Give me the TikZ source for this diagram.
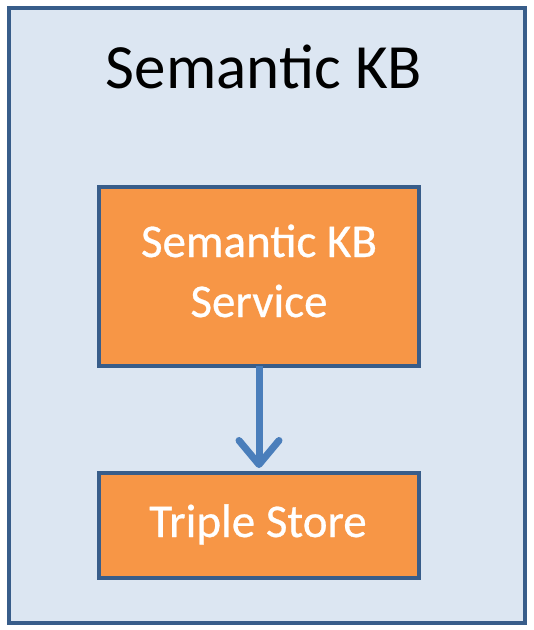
\documentclass[tikz,border=0pt]{standalone}
\usepackage{fontspec}
\setmainfont{Carlito}
\newfontface\boxfont{Carlito}[FakeBold=0.6]
\usetikzlibrary{arrows.meta}
\definecolor{bgblue}{RGB}{220,230,242}
\definecolor{edgeblue}{RGB}{56,93,138}
\definecolor{boxorange}{RGB}{247,150,70}
\definecolor{arrowblue}{RGB}{74,126,187}
\tikzset{
  outerbox/.style={draw=edgeblue, fill=bgblue, line width=4pt},
  orangebox/.style={draw=edgeblue, fill=boxorange, line width=4pt},
  boxtext/.style={text=white, font=\boxfont\fontsize{47}{60}\selectfont, align=center, anchor=base, inner sep=0pt},
  flow/.style={draw=arrowblue, line width=7pt, -{Straight Barb[length=24pt,width=40pt,line width=7pt,round]}}
}
\begin{document}
\begin{tikzpicture}[x=1pt,y=-1pt]
\useasboundingbox (0,0) rectangle (534,630);
\node[outerbox, minimum width=516pt, minimum height=615pt, inner sep=0pt] (outer) at (267,315.5) {};
\node[font=\fontsize{63}{70}\selectfont, anchor=base] (title) at (264,88) {Semantic KB};
\node[orangebox, minimum width=320pt, minimum height=179pt] (svc) at (259,276.5) {};
\node[orangebox, minimum width=320pt, minimum height=105pt] (store) at (259,525.5) {};
\node[boxtext] (svcl1) at (259,257) {Semantic KB};
\node[boxtext] (svcl2) at (259,317) {Service};
\node[boxtext] (storel) at (258,537) {Triple Store};
\draw[flow] ([yshift=2pt]svc.south) -- ([yshift=3pt]store.north);
\end{tikzpicture}
\end{document}
